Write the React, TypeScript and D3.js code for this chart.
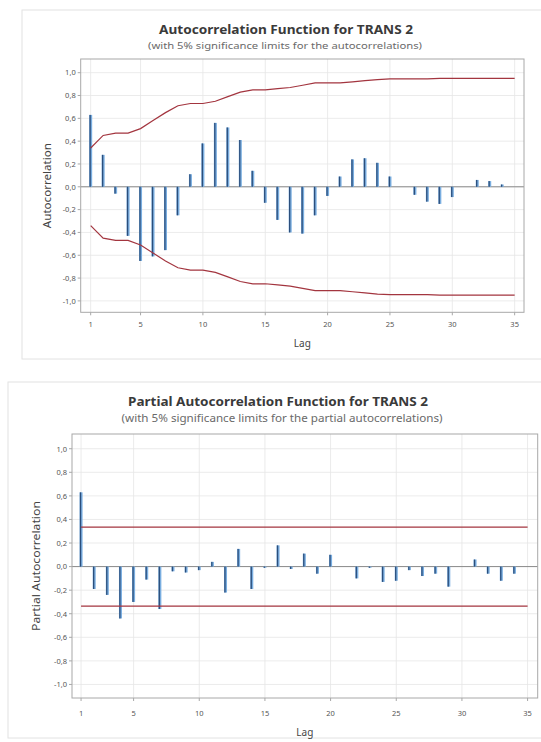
import React from "react";
import * as d3 from "d3";

// values (lags 1..35)
const lags = [1,2,3,4,5,6,7,8,9,10,11,12,13,14,15,16,17,18,19,20,21,22,23,24,25,26,27,28,29,30,31,32,33,34,35];

const acfValues = [0.63,0.28,-0.06,-0.43,-0.65,-0.61,-0.555,-0.25,0.11,0.38,0.56,0.52,0.41,0.14,-0.14,-0.29,-0.40,-0.41,-0.25,-0.08,0.09,0.24,0.25,0.21,0.09,0.0,-0.07,-0.13,-0.15,-0.09,0.0,0.06,0.05,0.02,0.0];
const acfLimit = [0.34,0.45,0.47,0.47,0.51,0.58,0.65,0.71,0.73,0.73,0.75,0.79,0.83,0.85,0.85,0.86,0.87,0.89,0.91,0.91,0.91,0.92,0.93,0.94,0.945,0.945,0.945,0.945,0.95,0.95,0.95,0.95,0.95,0.95,0.95];

const pacfValues = [0.63,-0.19,-0.24,-0.44,-0.30,-0.11,-0.36,-0.04,-0.05,-0.03,0.04,-0.22,0.15,-0.19,-0.01,0.18,-0.02,0.11,-0.06,0.10,0.0,-0.10,-0.01,-0.13,-0.12,-0.03,-0.08,-0.06,-0.17,0.0,0.06,-0.06,-0.12,-0.06,0.0];
const pacfLimit = [0.335,0.335,0.335,0.335,0.335,0.335,0.335,0.335,0.335,0.335,0.335,0.335,0.335,0.335,0.335,0.335,0.335,0.335,0.335,0.335,0.335,0.335,0.335,0.335,0.335,0.335,0.335,0.335,0.335,0.335,0.335,0.335,0.335,0.335,0.335];

const xTicks = [1,5,10,15,20,25,30,35];
const yTicks = [-1,-0.8,-0.6,-0.4,-0.2,0,0.2,0.4,0.6,0.8,1];

const FONT = "'Noto Sans', 'Open Sans', sans-serif";
const fmt = (v: number) => d3.format(".1f")(v).replace(".", ",").replace("\u2212", "-");

type Layout = {
  panel: { x: number; y: number; w: number; h: number };
  left: number; right: number; top: number; bottom: number;
  xDomain: [number, number]; yDomain: [number, number];
  titleX: number; titleY: number; titleW: number; titleSize: number;
  subX: number; subY: number; subW: number; subSize: number;
  xTickY: number; lagY: number; yLabelX: number; yLabelW: number;
};

const Correlogram = (props: {
  layout: Layout; title: string; subtitle: string; yLabel: string;
  values: number[]; limit: number[];
}) => {
  const { layout: L, values, limit } = props;
  const x = d3.scaleLinear().domain(L.xDomain).range([L.left, L.right]);
  const y = d3.scaleLinear().domain(L.yDomain).range([L.bottom, L.top]);
  const up = d3.line<number>().x((d, i) => x(lags[i])).y(d => y(d));
  const lo = d3.line<number>().x((d, i) => x(lags[i])).y(d => y(-d));
  const midX = (L.left + L.right) / 2;
  const midY = (L.top + L.bottom) / 2;

  return (
    <g>
      <rect x={L.panel.x} y={L.panel.y} width={L.panel.w} height={L.panel.h} fill="#fff" stroke="#e2e2e2" />
      <text x={L.titleX} y={L.titleY} textAnchor="middle" fontFamily={FONT} fontWeight="bold"
        fontSize={L.titleSize} fill="#3a3a3a" textLength={L.titleW} lengthAdjust="spacingAndGlyphs">{props.title}</text>
      <text x={L.subX} y={L.subY} textAnchor="middle" fontFamily={FONT}
        fontSize={L.subSize} fill="#6a6a6a" textLength={L.subW} lengthAdjust="spacingAndGlyphs">{props.subtitle}</text>

      {/* grid */}
      {xTicks.map(t => (
        <line key={"gx" + t} x1={x(t)} x2={x(t)} y1={L.top} y2={L.bottom} stroke="#e6e6e6" strokeWidth={0.8} />
      ))}
      {yTicks.map(t => (
        <line key={"gy" + t} x1={L.left} x2={L.right} y1={y(t)} y2={y(t)} stroke="#e6e6e6" strokeWidth={0.8} />
      ))}

      {/* zero line */}
      <line x1={L.left} x2={L.right} y1={y(0)} y2={y(0)} stroke="#8a8a8a" strokeWidth={1} />

      {/* bars */}
      {values.map((v, i) => (
        <g key={"b" + i}>
          <rect x={x(lags[i]) - 1.5} y={Math.min(y(v), y(0))} width={3} height={Math.abs(y(v) - y(0))} fill="#7aaee0" />
          <rect x={x(lags[i]) - 1.2} y={Math.min(y(v), y(0))} width={1.3} height={Math.abs(y(v) - y(0))} fill="#2c4f7c" />
        </g>
      ))}

      {/* significance limits */}
      <path d={up(limit) || ""} fill="none" stroke="#a3353f" strokeWidth={1.2} />
      <path d={lo(limit) || ""} fill="none" stroke="#a3353f" strokeWidth={1.2} />

      {/* frame */}
      <rect x={L.left} y={L.top} width={L.right - L.left} height={L.bottom - L.top} fill="none" stroke="#a8a8a8" strokeWidth={1} />

      {/* y axis */}
      {yTicks.map(t => (
        <g key={"yt" + t}>
          <line x1={L.left - 3} x2={L.left} y1={y(t)} y2={y(t)} stroke="#a8a8a8" />
          <text x={L.left - 5} y={y(t) + 2.8} textAnchor="end" fontFamily={FONT} fontSize={7.5} fill="#555">{fmt(t)}</text>
        </g>
      ))}
      {/* x axis */}
      {xTicks.map(t => (
        <g key={"xt" + t}>
          <line x1={x(t)} x2={x(t)} y1={L.bottom} y2={L.bottom + 3} stroke="#a8a8a8" />
          <text x={x(t)} y={L.xTickY} textAnchor="middle" fontFamily={FONT} fontSize={7.5} fill="#555">{t}</text>
        </g>
      ))}

      <text x={midX} y={L.lagY} textAnchor="middle" fontFamily={FONT} fontSize={10} fill="#444">Lag</text>
      <text transform={`translate(${L.yLabelX},${midY}) rotate(-90)`} textAnchor="middle" fontFamily={FONT}
        fontSize={10} fill="#444" textLength={L.yLabelW} lengthAdjust="spacingAndGlyphs">{props.yLabel}</text>
    </g>
  );
};

const acfLayout: Layout = {
  panel: { x: 22, y: 10, w: 540, h: 349 },
  left: 80.7, right: 524, top: 59, bottom: 312.3,
  xDomain: [0.2, 35.75], yDomain: [-1.1, 1.12],
  titleX: 286, titleY: 33.5, titleW: 254, titleSize: 12,
  subX: 285, subY: 48.5, subW: 274, subSize: 9.5,
  xTickY: 326.5, lagY: 347, yLabelX: 51, yLabelW: 85,
};

const pacfLayout: Layout = {
  panel: { x: 8, y: 382, w: 560, h: 356 },
  left: 72, right: 537.7, top: 434, bottom: 698,
  xDomain: [0.31, 35.77], yDomain: [-1.115, 1.125],
  titleX: 278, titleY: 405.5, titleW: 300, titleSize: 12.5,
  subX: 282, subY: 421.5, subW: 321, subSize: 10,
  xTickY: 715.5, lagY: 736, yLabelX: 40, yLabelW: 130,
};

export default function App() {
  return (
    <svg width={541} height={742} style={{ position: "absolute", left: 0, top: 0, background: "#fff" }}>
      <Correlogram layout={acfLayout} title="Autocorrelation Function for TRANS 2"
        subtitle="(with 5% significance limits for the autocorrelations)" yLabel="Autocorrelation"
        values={acfValues} limit={acfLimit} />
      <Correlogram layout={pacfLayout} title="Partial Autocorrelation Function for TRANS 2"
        subtitle="(with 5% significance limits for the partial autocorrelations)" yLabel="Partial Autocorrelation"
        values={pacfValues} limit={pacfLimit} />
    </svg>
  );
}
